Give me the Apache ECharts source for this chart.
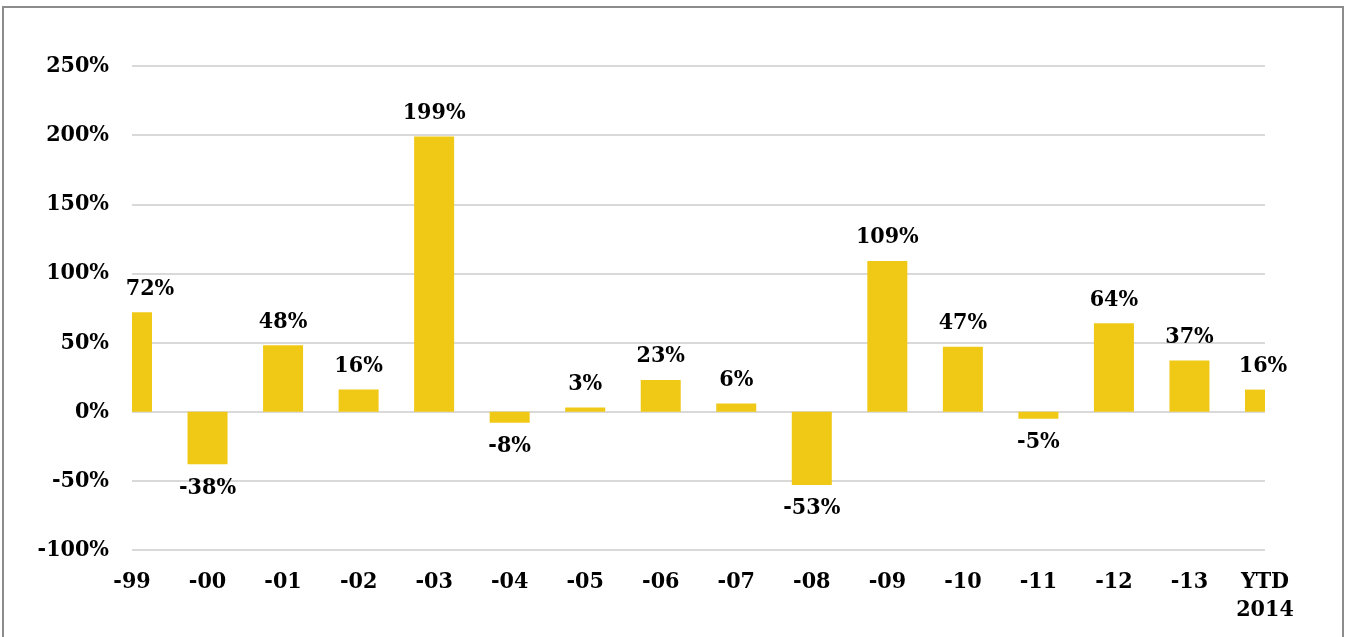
<!DOCTYPE html>
<html>
<head>
<meta charset="utf-8">
<style>
  html, body { margin: 0; padding: 0; background: #ffffff; }
  #chart { width: 1349px; height: 637px; }
</style>
<script src="https://cdn.jsdelivr.net/npm/echarts@6/dist/echarts.min.js"></script>
</head>
<body>
<div id="chart"></div>
<script>
// Yearly returns, in percent
const years = ['-99', '-00', '-01', '-02', '-03', '-04', '-05', '-06', '-07', '-08', '-09', '-10', '-11', '-12', '-13', 'YTD\n2014'];
const returns = [72, -38, 48, 16, 199, -8, 3, 23, 6, -53, 109, 47, -5, 64, 37, 16];
const yMin = -100;
const yMax = 250;
const yStep = 50;

const FONT = "'DejaVu Serif Condensed', 'DejaVu Serif', serif";
const FONT_SIZE = 23;
const BAR = '#f0c916';
const GRID_LINE = '#d9d9d9';
const BAR_WIDTH = 40;

const chart = echarts.init(document.getElementById('chart'), null, { renderer: 'canvas' });

// Bars are centred on the category ticks and cut off at the plot edges,
// so the first and last columns show only their inner half.
function renderBar(params, api) {
  const idx = api.value(0);
  const v = api.value(1);
  const top = api.coord([idx, v]);
  const base = api.coord([idx, 0]);
  const cs = params.coordSys;
  const full = {
    x: top[0] - BAR_WIDTH / 2,
    y: Math.min(top[1], base[1]),
    width: BAR_WIDTH,
    height: Math.abs(base[1] - top[1])
  };
  const shape = echarts.graphic.clipRectByRect(full, {
    x: cs.x, y: cs.y, width: cs.width, height: cs.height
  });
  if (!shape) return;
  const clipped = shape.width < BAR_WIDTH - 0.5;
  return {
    type: 'rect',
    shape: shape,
    style: { fill: BAR },
    textContent: {
      style: {
        text: v + '%',
        fill: '#000000',
        fontFamily: FONT,
        fontWeight: 'bold',
        fontSize: FONT_SIZE
      }
    },
    textConfig: {
      position: v >= 0 ? 'top' : 'bottom',
      distance: 12,
      offset: [clipped ? 8 : 0, 0]
    }
  };
}

chart.setOption({
  backgroundColor: '#ffffff',
  animation: false,
  graphic: [{
    type: 'rect',
    shape: { x: 3, y: 7, width: 1340, height: 640 },
    style: { fill: 'none', stroke: '#8c8c8c', lineWidth: 2 },
    silent: true
  }],
  grid: { left: 132, right: 84, top: 66, bottom: 87, containLabel: false },
  xAxis: {
    type: 'category',
    data: years,
    boundaryGap: false,
    axisLine: { show: false },
    axisTick: { show: false },
    splitLine: { show: false },
    axisLabel: {
      margin: 18,
      color: '#000000',
      fontFamily: FONT,
      fontWeight: 'bold',
      fontSize: FONT_SIZE,
      lineHeight: 28,
      interval: 0
    }
  },
  yAxis: {
    type: 'value',
    min: yMin,
    max: yMax,
    interval: yStep,
    axisLine: { show: false },
    axisTick: { show: false },
    splitLine: { show: true, lineStyle: { color: GRID_LINE, width: 2 } },
    axisLabel: {
      margin: 23,
      color: '#000000',
      fontFamily: FONT,
      fontWeight: 'bold',
      fontSize: FONT_SIZE,
      formatter: '{value}%'
    }
  },
  series: [{
    type: 'custom',
    renderItem: renderBar,
    encode: { x: 0, y: 1 },
    data: returns.map((v, i) => [i, v])
  }]
});
</script>
</body>
</html>
